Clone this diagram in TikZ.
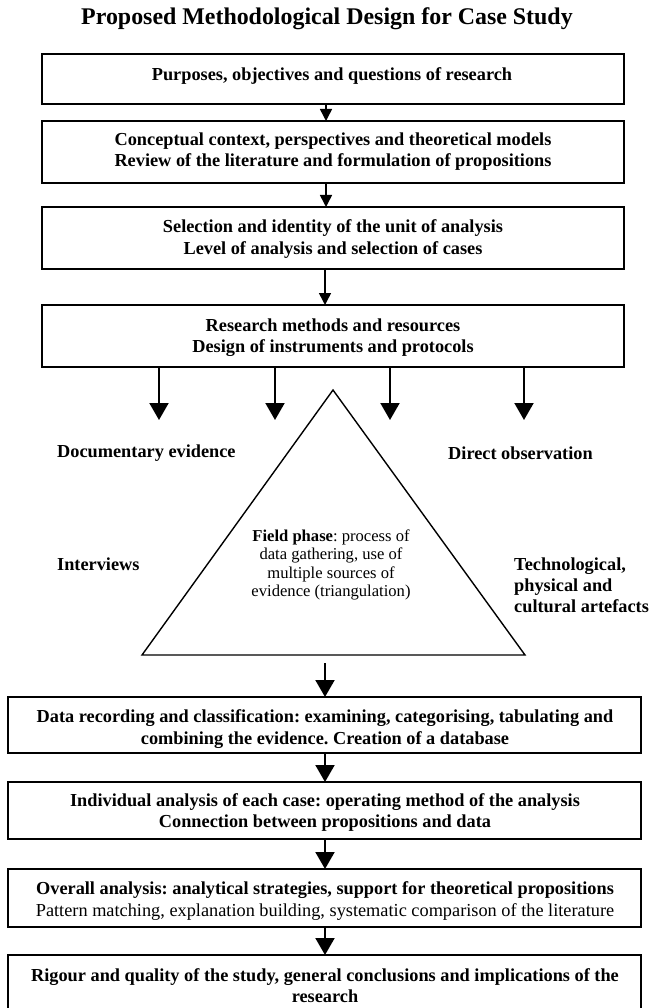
\documentclass[tikz,border=0pt]{standalone}
\usepackage{fontspec}
\setmainfont{Liberation Serif}
\usetikzlibrary{arrows.meta}
\frenchspacing
\begin{document}
\begin{tikzpicture}[x=1pt,y=-1pt,
  box/.style={draw, line width=2.2pt, inner sep=0pt, outer sep=0pt},
  txt/.style={align=center, inner sep=0pt, font=\fontsize{18.3}{21.2}\selectfont\bfseries},
  lbl/.style={align=left, anchor=west, inner sep=0pt, font=\fontsize{18.3}{21.2}\selectfont\bfseries},
  smallarr/.style={line width=1.5pt, -{Triangle[width=12pt,length=12pt]}},
  bigarr/.style={line width=2pt, -{Triangle[width=19pt,length=17pt]}}
]
\useasboundingbox[fill=white] (0,0) rectangle (651,1008);

% title
\node[inner sep=0pt, font=\fontsize{23.9}{27}\selectfont\bfseries] (title) at (327,18.5) {Proposed Methodological Design for Case Study};

% upper boxes
\node[box, minimum width=582pt, minimum height=50pt] (b1) at (333,79) {};
\node[box, minimum width=582pt, minimum height=62pt] (b2) at (333,152) {};
\node[box, minimum width=582pt, minimum height=62pt] (b3) at (333,238) {};
\node[box, minimum width=582pt, minimum height=62pt] (b4) at (333,336) {};

\node[txt] (t1) at (332,75.8) {Purposes, objectives and questions of research};
\node[txt] (t2) at (333,151.8) {Conceptual context, perspectives and theoretical models\\Review of the literature and formulation of propositions};
\node[txt] (t3) at (333,239) {Selection and identity of the unit of analysis\\Level of analysis and selection of cases};
\node[txt] (t4) at (333,338) {Research methods and resources\\Design of instruments and protocols};

% lower boxes
\node[box, minimum width=633pt, minimum height=56pt] (b5) at (324.5,725) {};
\node[box, minimum width=633pt, minimum height=57pt] (b6) at (324.5,810.5) {};
\node[box, minimum width=633pt, minimum height=58pt] (b7) at (324.5,898) {};
\node[box, minimum width=633pt, minimum height=55pt] (b8) at (324.5,982.5) {};

\node[txt] (t5) at (325,729) {Data recording and classification: examining, categorising, tabulating and\\combining the evidence. Creation of a database};
\node[txt] (t6) at (325,812.5) {Individual analysis of each case: operating method of the analysis\\Connection between propositions and data};
\node[txt] (t7) at (325,901) {Overall analysis: analytical strategies, support for theoretical propositions\\\mdseries Pattern matching, explanation building, systematic comparison of the literature};
\node[txt] (t8) at (325,985.5) {Rigour and quality of the study, general conclusions and implications of the\\research};

% triangle
\coordinate (tA) at (333,390);
\coordinate (tL) at (142,655);
\coordinate (tR) at (525,655);
\draw[line width=1.4pt, line join=miter] (tA) -- (tR) -- (tL) -- cycle;
\node[align=center, inner sep=0pt, font=\fontsize{16.6}{18.3}\selectfont] (field) at (331,565)
  {\textbf{Field phase}: process of\\data gathering, use of\\multiple sources of\\evidence (triangulation)};

% side labels
\node[lbl] (doc) at (57,453.3) {Documentary evidence};
\node[lbl] (dir) at (448,453.3) {Direct observation};
\node[lbl] (int) at (57,564.3) {Interviews};
\node[lbl] (tec) at (514,585) {Technological,\\physical and\\cultural artefacts};

% connectors
\coordinate (ax) at (326,0);
\coordinate (bx) at (325,0);
\draw[smallarr] (b1.south -| ax) -- (b2.north -| ax);
\draw[smallarr] (b2.south -| ax) -- (b3.north -| ax);
\draw[smallarr] (b3.south -| bx) -- (b4.north -| bx);

\coordinate (e1) at (159,420);
\coordinate (e2) at (275,420);
\coordinate (e3) at (390,420);
\coordinate (e4) at (524,420);
\draw[bigarr] (b4.south -| e1) -- (e1);
\draw[bigarr] (b4.south -| e2) -- (e2);
\draw[bigarr] (b4.south -| e3) -- (e3);
\draw[bigarr] (b4.south -| e4) -- (e4);

\coordinate (tS) at (325,663);
\draw[bigarr] (tS) -- (b5.north -| tS);
\draw[bigarr] (b5.south -| bx) -- (b6.north -| bx);
\draw[bigarr] (b6.south -| bx) -- (b7.north -| bx);
\draw[bigarr] (b7.south -| bx) -- (b8.north -| bx);
\end{tikzpicture}
\end{document}
